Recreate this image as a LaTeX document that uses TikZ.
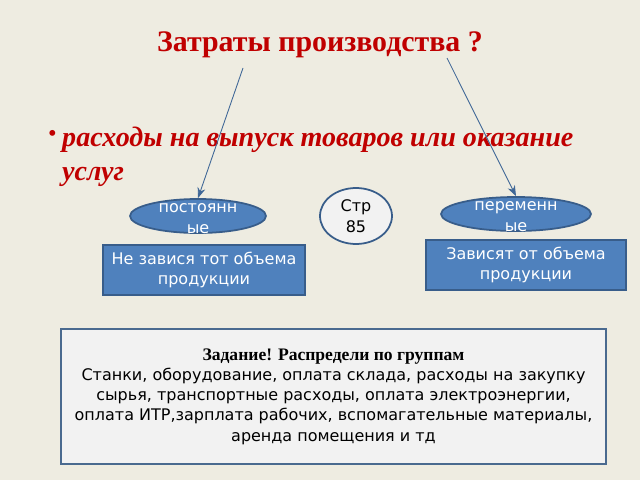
\documentclass[tikz,border=0pt]{standalone}
\usepackage{fontspec}
\setmainfont{Liberation Serif}
\newfontfamily\dv{DejaVu Sans}
\usetikzlibrary{shapes.geometric,arrows.meta}
\definecolor{bg}{HTML}{EEECE1}
\definecolor{bl}{HTML}{4F81BD}
\definecolor{bld}{HTML}{385D8A}
\definecolor{rd}{HTML}{C00000}
\definecolor{tf}{HTML}{F2F2F2}
\definecolor{tb}{HTML}{4A6A8F}
\tikzset{
 ell/.style={ellipse,fill=bl,draw=bld,line width=1pt,inner sep=0pt},
 box/.style={rectangle,fill=bl,draw=bld,line width=1pt,text=white,font=\dv\fontsize{9.1}{11}\selectfont,align=center,inner sep=0pt},
 etext/.style={text=white,font=\dv\fontsize{9.1}{12}\selectfont,align=center},
 arr/.style={-{Stealth[length=6pt]},draw=bl!80!black,line width=0.5pt}
}
\begin{document}
\begin{tikzpicture}[x=0.02cm,y=-0.02cm]
\fill[bg] (0,0) rectangle (640,480);
\useasboundingbox (0,0) rectangle (640,480);
\node[text=rd,font=\bfseries\fontsize{17}{19}\selectfont] (title) at (320,45) {Затраты производства ?};
\node[text=rd,font=\fontsize{14}{18}\selectfont,anchor=west] (bul) at (42,136) {•};
\node[text=rd,font=\bfseries\itshape\fontsize{16}{19}\selectfont,anchor=north west,align=left] (t1) at (56,121) {расходы на выпуск товаров или оказание\\услуг};
\coordinate (a1) at (243,68); \coordinate (a2) at (447,58);
\node[ell,minimum width=2.72cm,minimum height=0.68cm] (e1) at (198,216) {};
\node[etext] (e1t) at (198,219) {постоянн\\ые};
\node[ellipse,fill=tf,draw=bld,line width=1pt,minimum width=1.44cm,minimum height=1.12cm,inner sep=0pt,font=\dv\fontsize{9.1}{12}\selectfont,align=center] (c) at (356,216) {Стр\\85};
\node[ell,minimum width=3cm,minimum height=0.68cm] (e2) at (516,214) {};
\node[etext] (e2t) at (516,217) {переменн\\ые};
\draw[arr] (a1) -- (e1.north);
\draw[arr] (a2) -- (e2.north);
\node[box,minimum width=4.04cm,minimum height=1cm] (b1) at (204,270) {Не завися тот объема\\продукции};
\node[box,minimum width=4cm,minimum height=1cm] (b2) at (526,265) {Зависят от объема\\продукции};
\node[rectangle,fill=tf,draw=tb,line width=1pt,minimum width=10.9cm,minimum height=2.7cm,align=center,inner sep=0pt,font=\dv\fontsize{9.1}{11.5}\selectfont] (task) at (333.5,396.5)
{{\rmfamily\bfseries\fontsize{10}{12}\selectfont Задание! Распредели по группам}\\Станки, оборудование, оплата склада, расходы на закупку\\сырья, транспортные расходы, оплата электроэнергии,\\оплата ИТР,зарплата рабочих, вспомагательные материалы,\\аренда помещения и тд};
\end{tikzpicture}
\end{document}
